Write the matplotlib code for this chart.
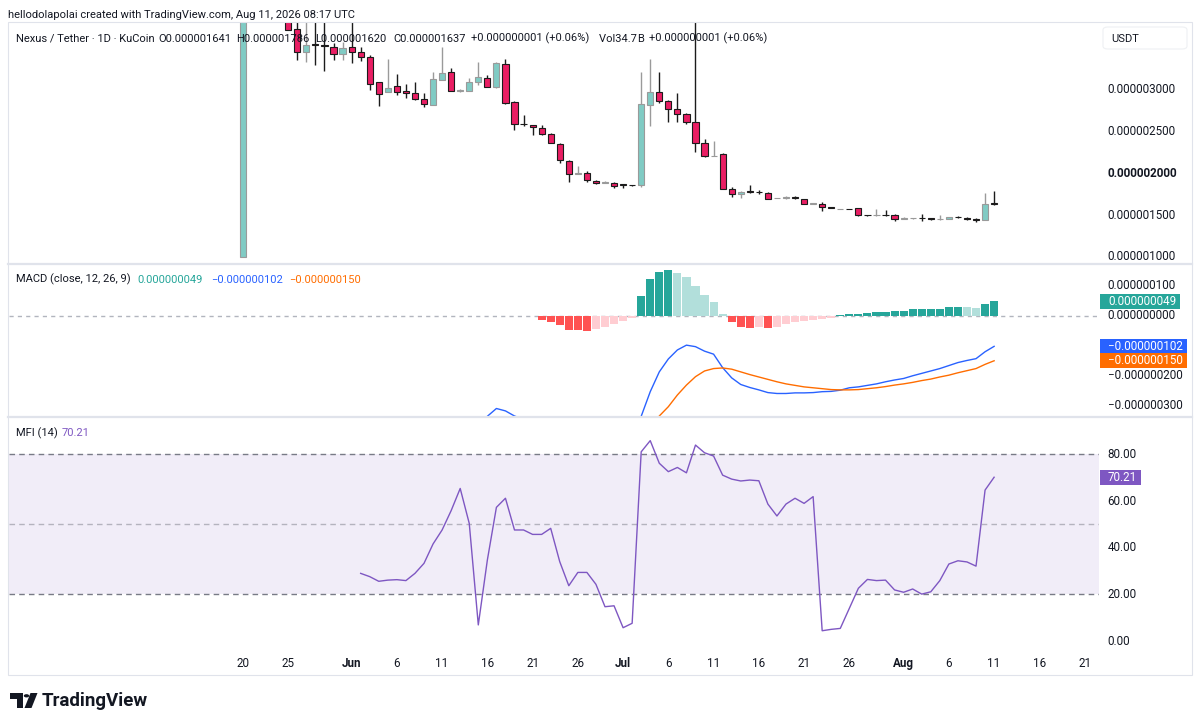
import numpy as np
import pandas as pd
import matplotlib
matplotlib.use("Agg")
import matplotlib.pyplot as plt
from matplotlib.patches import Rectangle, FancyBboxPatch, Circle, Polygon
from matplotlib.lines import Line2D

plt.rcParams['font.family'] = ['Roboto', 'DejaVu Sans']

# ---------------- data (prices in units of 1e-6 USDT) ----------------
START_DATE = '2026-05-20'
PRICE_UNIT = 1e-6
opens = [1.00, 4.30, 4.20, 4.10, 4.05, 3.95, 3.73, 3.45, 3.545, 3.535,
         3.52, 3.43, 3.51, 3.46, 3.39, 3.09, 2.97, 3.05, 2.99, 2.96,
         2.89, 2.82, 3.12, 3.21, 2.99, 2.99, 3.10, 3.14, 3.03, 3.31,
         2.86, 2.595, 2.58, 2.55, 2.47, 2.35, 2.15, 1.99, 2.01, 1.91,
         1.89, 1.89, 1.87, 1.86, 1.86, 2.82, 2.98, 2.87, 2.77, 2.71,
         2.62, 2.37, 2.21, 2.23, 1.82, 1.76, 1.785, 1.78, 1.77, 1.71,
         1.712, 1.715, 1.69, 1.64, 1.64, 1.595, 1.575, 1.578, 1.585, 1.50,
         1.50, 1.505, 1.50, 1.46, 1.463, 1.47, 1.465, 1.45, 1.455, 1.48,
         1.47, 1.45, 1.44, 1.641]
highs = [4.40, 4.60, 4.50, 4.30, 4.20, 4.05, 3.85, 3.85, 3.85, 3.85,
         3.56, 3.58, 3.85, 3.52, 3.42, 3.10, 3.37, 3.19, 3.07, 3.10,
         2.96, 3.22, 3.52, 3.26, 3.01, 3.14, 3.33, 3.18, 3.33, 3.37,
         2.87, 2.70, 2.58, 2.58, 2.48, 2.37, 2.16, 2.09, 2.03, 1.92,
         1.91, 1.90, 1.88, 1.862, 3.21, 3.37, 3.22, 2.88, 2.96, 2.72,
         3.90, 2.41, 2.39, 2.24, 1.84, 1.79, 1.86, 1.80, 1.78, 1.712,
         1.725, 1.73, 1.70, 1.645, 1.66, 1.60, 1.58, 1.58, 1.59, 1.505,
         1.57, 1.56, 1.52, 1.48, 1.47, 1.51, 1.47, 1.50, 1.48, 1.49,
         1.475, 1.47, 1.77, 1.786]
lows = [1.00, 3.95, 3.95, 3.90, 3.90, 3.72, 3.36, 3.34, 3.30, 3.23,
        3.36, 3.36, 3.32, 3.35, 3.00, 2.81, 2.97, 2.94, 2.90, 2.88,
        2.80, 2.82, 3.12, 2.99, 2.98, 2.99, 3.06, 3.03, 3.02, 2.83,
        2.52, 2.57, 2.46, 2.46, 2.36, 2.13, 1.90, 1.99, 1.90, 1.88,
        1.885, 1.83, 1.83, 1.853, 1.84, 2.57, 2.85, 2.62, 2.62, 2.59,
        2.26, 2.20, 2.21, 1.81, 1.72, 1.71, 1.77, 1.76, 1.69, 1.708,
        1.70, 1.69, 1.635, 1.638, 1.555, 1.585, 1.57, 1.57, 1.49, 1.495,
        1.495, 1.495, 1.435, 1.455, 1.46, 1.43, 1.445, 1.44, 1.45, 1.47,
        1.445, 1.42, 1.44, 1.620]
closes = [4.30, 4.20, 4.10, 4.05, 3.95, 3.72, 3.45, 3.54, 3.54, 3.53,
          3.43, 3.50, 3.46, 3.39, 3.07, 2.95, 3.02, 2.97, 2.96, 2.89,
          2.83, 3.13, 3.20, 2.99, 3.00, 3.10, 3.15, 3.04, 3.32, 2.85,
          2.59, 2.59, 2.56, 2.47, 2.37, 2.16, 1.99, 2.01, 1.92, 1.89,
          1.895, 1.85, 1.865, 1.857, 2.83, 2.98, 2.87, 2.77, 2.71, 2.62,
          2.36, 2.21, 2.215, 1.82, 1.76, 1.78, 1.78, 1.775, 1.70, 1.712,
          1.715, 1.705, 1.64, 1.642, 1.595, 1.59, 1.578, 1.575, 1.50, 1.498,
          1.505, 1.50, 1.455, 1.463, 1.47, 1.465, 1.45, 1.455, 1.475, 1.478,
          1.45, 1.44, 1.636, 1.637]
VOLUME_TEXT = 'Vol34.7\u200aB'

# MACD (units of 1e-6)
MACD_START = 25
macd_line = [-0.380, -0.360, -0.335, -0.309, -0.317, -0.334, -0.345, -0.352, -0.356, -0.365,
             -0.382, -0.408, -0.421, -0.435, -0.440, -0.443, -0.441, -0.436, -0.426, -0.335,
             -0.253, -0.187, -0.144, -0.114, -0.098, -0.103, -0.118, -0.128, -0.173, -0.207,
             -0.229, -0.239, -0.247, -0.256, -0.259, -0.259, -0.257, -0.257, -0.256, -0.253,
             -0.252, -0.248, -0.240, -0.237, -0.232, -0.227, -0.220, -0.214, -0.209, -0.200,
             -0.192, -0.184, -0.176, -0.166, -0.156, -0.149, -0.143, -0.120, -0.102]
SIGNAL_START = 33
signal_line = [-0.343, -0.345, -0.351, -0.361, -0.373, -0.385, -0.396, -0.405, -0.412, -0.417,
               -0.419, -0.402, -0.377, -0.334, -0.303, -0.264, -0.231, -0.203, -0.184, -0.176,
               -0.174, -0.178, -0.187, -0.196, -0.204, -0.212, -0.220, -0.227, -0.232, -0.237,
               -0.240, -0.243, -0.246, -0.247, -0.247, -0.246, -0.243, -0.240, -0.236, -0.231,
               -0.227, -0.222, -0.216, -0.211, -0.204, -0.198, -0.190, -0.183, -0.176, -0.162,
               -0.150]
histogram = [-0.013, -0.020, -0.031, -0.047, -0.048, -0.050, -0.044, -0.038, -0.029, -0.019,
             -0.007, 0.067, 0.124, 0.147, 0.153, 0.144, 0.130, 0.100, 0.069, 0.047,
             0.005, -0.022, -0.036, -0.041, -0.039, -0.041, -0.036, -0.029, -0.022, -0.019,
             -0.013, -0.010, -0.006, 0.002, 0.005, 0.006, 0.008, 0.011, 0.014, 0.015,
             0.016, 0.021, 0.0215, 0.022, 0.024, 0.028, 0.030, 0.029, 0.027, 0.040,
             0.049]

# MFI (14)
MFI_START = 13
mfi = [29.0, 27.6, 25.6, 26.1, 26.3, 25.9, 29.0, 33.3, 41.6, 47.6,
       55.9, 65.4, 50.4, 6.9, 34.7, 57.3, 61.2, 47.6, 47.6, 45.7,
       45.7, 48.3, 34.0, 23.7, 29.4, 29.4, 24.3, 14.7, 15.1, 5.7,
       7.6, 81.1, 85.9, 76.2, 72.6, 74.4, 72.1, 84.0, 80.7, 79.3,
       71.1, 69.4, 68.6, 69.0, 68.7, 58.7, 53.6, 58.7, 61.2, 59.0,
       61.9, 4.4, 5.0, 5.4, 14.0, 22.6, 26.4, 25.9, 26.1, 21.9,
       20.9, 22.3, 20.1, 21.1, 25.9, 33.0, 34.4, 33.9, 32.1, 64.7,
       70.21]

tick_dates = ['2026-05-20', '2026-05-25', '2026-06-01', '2026-06-06', '2026-06-11',
              '2026-06-16', '2026-06-21', '2026-06-26', '2026-07-01', '2026-07-06',
              '2026-07-11', '2026-07-16', '2026-07-21', '2026-07-26', '2026-08-01',
              '2026-08-06', '2026-08-11', '2026-08-16', '2026-08-21']
tick_labels = ['20', '25', 'Jun', '6', '11', '16', '21', '26', 'Jul', '6',
               '11', '16', '21', '26', 'Aug', '6', '11', '16', '21']
price_ticks = [1.0, 1.5, 2.0, 2.5, 3.0]
macd_ticks = [0.1, 0.0, -0.2, -0.3]
mfi_ticks = [80, 60, 40, 20, 0]

# ---------------- styling ----------------
TXT = '#131722'
UP_FILL, UP_EDGE = '#80CBC4', '#9a9a9a'
DN_FILL, DN_EDGE = '#E91E63', '#1b1b1b'
FRAME = '#E0E3EB'
FS = 8.4      # numeric labels
FS_T = 8.0    # word labels

W, H = 1200, 727
fig = plt.figure(figsize=(W / 100, H / 100), dpi=100)
fig.patch.set_facecolor('white')


def fx(x):
    return x / W


def fy(y):
    return 1 - y / H


def add_pane(top, bottom):
    a = fig.add_axes([fx(9), fy(bottom), fx(1099) - fx(9), (bottom - top) / H])
    for s in a.spines.values():
        s.set_visible(False)
    a.set_xticks([])
    a.set_yticks([])
    a.set_facecolor('none')
    a.set_xlim(-25.86, 94.59)
    return a


ax_p = add_pane(22, 263)
ax_m = add_pane(265, 416)
ax_f = add_pane(418, 652)

ax_p.set_ylim(0.928, 3.814)
ax_m.set_ylim(-0.334, 0.169)
ax_f.set_ylim(-4.71, 95.6)

o = np.array(opens)
h = np.array(highs)
l = np.array(lows)
c = np.array(closes)
x = np.arange(len(o))
up = c >= o

# candles
ax_p.vlines(x[up], l[up], h[up], color=UP_EDGE, lw=1.0, zorder=1)
ax_p.vlines(x[~up], l[~up], h[~up], color=DN_EDGE, lw=1.0, zorder=1)
bot = np.minimum(o, c)
hgt = np.abs(c - o)
ax_p.bar(x[up], hgt[up], bottom=bot[up], width=0.68, color=UP_FILL,
         edgecolor=UP_EDGE, linewidth=0.8, zorder=2)
ax_p.bar(x[~up], hgt[~up], bottom=bot[~up], width=0.68, color=DN_FILL,
         edgecolor=DN_EDGE, linewidth=0.8, zorder=2)

# MACD
hist = np.array(histogram)
hx = np.arange(SIGNAL_START, SIGNAL_START + len(hist))
hcols = []
for i, v in enumerate(hist):
    prev = hist[i - 1] if i > 0 else None
    if v >= 0:
        hcols.append('#26A69A' if (prev is None or prev < v) else '#B2DFDB')
    else:
        hcols.append('#FFCDD2' if (prev is not None and prev < v) else '#FF5252')
ax_m.bar(hx, hist, width=0.9, color=hcols, zorder=2)
ax_m.axhline(0, color='#B2B5BE', lw=1, dashes=(3, 3), zorder=1)
mx = np.arange(MACD_START, MACD_START + len(macd_line))
sx = np.arange(SIGNAL_START, SIGNAL_START + len(signal_line))
ax_m.plot(mx, macd_line, color='#2962FF', lw=1.0, zorder=3)
ax_m.plot(sx, signal_line, color='#FF6D00', lw=1.0, zorder=3)

# MFI
ax_f.axhspan(20, 80, color='#7E57C2', alpha=0.1, lw=0, zorder=0)
ax_f.axhline(80, color='#787B86', lw=1, dashes=(4, 3), zorder=1)
ax_f.axhline(50, color='#787B86', alpha=0.5, lw=1, dashes=(4, 3), zorder=1)
ax_f.axhline(20, color='#787B86', lw=1, dashes=(4, 3), zorder=1)
fx_ = np.arange(MFI_START, MFI_START + len(mfi))
ax_f.plot(fx_, mfi, color='#7E57C2', lw=1.0, zorder=3)

# right-axis labels


def axis_label(ax, v, s, bold=False):
    ax.annotate(s, xy=(1, v), xycoords=('axes fraction', 'data'), xytext=(6.3, 0),
                textcoords='offset points', ha='left', va='center', fontsize=FS,
                color=TXT, fontweight='bold' if bold else 'normal', annotation_clip=False)


for v in price_ticks:
    axis_label(ax_p, v, f'{v * PRICE_UNIT:.9f}', bold=(v == 2.0))
for v in macd_ticks:
    axis_label(ax_m, v, f'{v * PRICE_UNIT:.9f}'.replace('-', '\u2212'))
for v in mfi_ticks:
    axis_label(ax_f, v, f'{v:.2f}')


def value_box(ax, v, s, col, right):
    ypix = ax.transData.transform((0, v))[1]
    fig.add_artist(Rectangle((fx(1100), (ypix - 7.5) / H), (right - 1100) / W, 15 / H,
                             transform=fig.transFigure, facecolor=col, edgecolor='none',
                             zorder=5))
    fig.text(fx(1108), ypix / H, s, color='white', fontsize=FS, va='center', ha='left',
             zorder=6)


def fmt_e6(v):
    return f'{v * PRICE_UNIT:.9f}'.replace('-', '\u2212')


value_box(ax_m, histogram[-1], fmt_e6(histogram[-1]), '#26A69A', 1180)
value_box(ax_m, macd_line[-1], fmt_e6(macd_line[-1]), '#2962FF', 1187)
value_box(ax_m, signal_line[-1], fmt_e6(signal_line[-1]), '#FF6D00', 1187)
value_box(ax_f, mfi[-1], f'{mfi[-1]:.2f}', '#7E57C2', 1141)

# time axis
start = pd.Timestamp(START_DATE)
tpos = [(pd.Timestamp(d) - start).days for d in tick_dates]
for p, s in zip(tpos, tick_labels):
    ax_f.annotate(s, xy=(p, 0), xycoords=('data', 'axes fraction'), xytext=(0, -8.2),
                  textcoords='offset points', ha='center', va='center', fontsize=FS,
                  color=TXT, fontweight='bold' if not s.isdigit() else 'normal',
                  annotation_clip=False)

# frame and separators
fig.add_artist(Rectangle((fx(8), fy(675)), (1192 - 8) / W, (675 - 22) / H,
                         transform=fig.transFigure, fill=False, edgecolor=FRAME, lw=0.8))
for yy in (264, 417):
    fig.add_artist(Line2D([fx(8), fx(1192)], [fy(yy), fy(yy)], transform=fig.transFigure,
                          color=FRAME, lw=1.6))

# USDT box
fig.add_artist(FancyBboxPatch((fx(1103), fy(49)), (1187 - 1103) / W, 22 / H,
                              boxstyle='round,pad=0,rounding_size=0.004',
                              transform=fig.transFigure, facecolor='white',
                              edgecolor='#EEF0F3', lw=0.8))
fig.text(fx(1111), fy(38.5), 'USDT', fontsize=FS_T, color=TXT, va='center', ha='left')

# header texts
fig.text(fx(8), fy(15.5), 'hellodolapolai created with TradingView.com, Aug 11, 2026 08:17 UTC',
         fontsize=FS_T, color=TXT, va='center', ha='left')

chg = closes[-1] - closes[-2]
pct = chg / closes[-2] * 100
chg_s = f'+{chg * PRICE_UNIT:.9f} (+{pct:.2f}%)'
legend_parts = [
    (16, 'Nexus / Tether \u00b7 1D \u00b7 KuCoin'),
    (158, f'O{opens[-1] * PRICE_UNIT:.9f}'),
    (236, f'H{highs[-1] * PRICE_UNIT:.9f}'),
    (315, f'L{lows[-1] * PRICE_UNIT:.9f}'),
    (393, f'C{closes[-1] * PRICE_UNIT:.9f}'),
    (471, chg_s),
    (599, VOLUME_TEXT),
    (649, chg_s),
]
for xx, s in legend_parts:
    fig.text(fx(xx), fy(38.5), s, fontsize=FS_T, color=TXT, va='center', ha='left', zorder=10)

macd_parts = [
    (16, 'MACD (close, 12, 26, 9)', TXT),
    (137, fmt_e6(histogram[-1]), '#26A69A'),
    (211, fmt_e6(macd_line[-1]), '#2962FF'),
    (289, fmt_e6(signal_line[-1]), '#FF6D00'),
]
for xx, s, col in macd_parts:
    fig.text(fx(xx), fy(279.5), s, fontsize=FS_T, color=col, va='center', ha='left', zorder=10)

fig.text(fx(16), fy(433.5), 'MFI (14)', fontsize=FS_T, color=TXT, va='center', ha='left')
fig.text(fx(62), fy(433.5), f'{mfi[-1]:.2f}', fontsize=FS_T, color='#7E57C2', va='center',
         ha='left')

# TradingView logo
fig.add_artist(Rectangle((fx(10), fy(698.5)), 12.5 / W, 5.5 / H, transform=fig.transFigure,
                         facecolor='#131722', edgecolor='none'))
fig.add_artist(Rectangle((fx(16.5), fy(708)), 6 / W, 10 / H, transform=fig.transFigure,
                         facecolor='#131722', edgecolor='none'))
fig.add_artist(Circle((fx(26.5), fy(695.8)), 2.7 / W, transform=fig.transFigure,
                      facecolor='#131722', edgecolor='none'))
fig.add_artist(Polygon([(fx(30.5), fy(693)), (fx(37.5), fy(693)), (fx(31.5), fy(708)),
                        (fx(24.5), fy(708))], closed=True, transform=fig.transFigure,
                       facecolor='#131722', edgecolor='none'))
fig.text(fx(42), fy(700.5), 'TradingView', fontsize=13.5, fontweight='bold', color='#131722',
         va='center', ha='left')

fig.savefig('out.png', dpi=100, facecolor='white')
